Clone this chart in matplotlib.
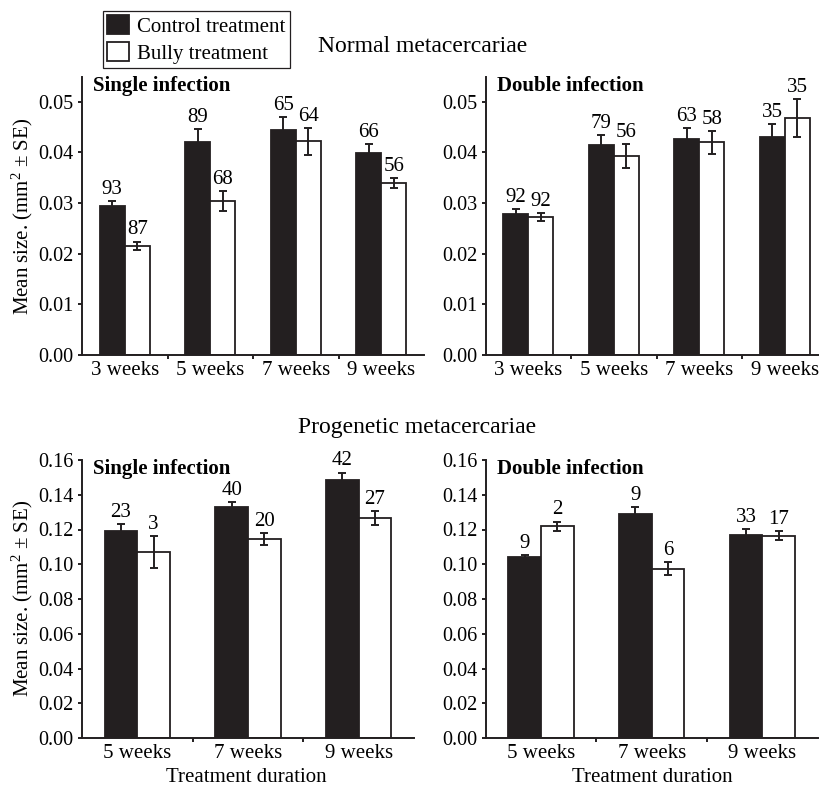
import matplotlib
matplotlib.use('Agg')
import matplotlib.pyplot as plt
import numpy as np
from matplotlib.patches import Patch
from matplotlib.ticker import FormatStrFormatter, FixedLocator

plt.rcParams['font.family'] = ['Liberation Serif', 'DejaVu Serif']
plt.rcParams['mathtext.fontset'] = 'custom'
plt.rcParams['mathtext.rm'] = 'Liberation Serif'
plt.rcParams['mathtext.it'] = 'Liberation Serif:italic'
plt.rcParams['mathtext.bf'] = 'Liberation Serif:bold'

# ---------------- data ----------------
weeks_normal = ['3 weeks', '5 weeks', '7 weeks', '9 weeks']
weeks_prog = ['5 weeks', '7 weeks', '9 weeks']

normal_single_control = [0.0294, 0.0420, 0.0444, 0.0399]
normal_single_control_se = [0.0010, 0.0027, 0.0026, 0.0017]
normal_single_bully = [0.0216, 0.0304, 0.0422, 0.0339]
normal_single_bully_se = [0.0008, 0.0020, 0.0027, 0.0010]
normal_single_control_n = [93, 89, 65, 66]
normal_single_bully_n = [87, 68, 64, 56]

normal_double_control = [0.0278, 0.0415, 0.0426, 0.0431]
normal_double_control_se = [0.0010, 0.0020, 0.0023, 0.0025]
normal_double_bully = [0.0273, 0.0393, 0.0420, 0.0468]
normal_double_bully_se = [0.0008, 0.0024, 0.0023, 0.0037]
normal_double_control_n = [92, 79, 63, 35]
normal_double_bully_n = [92, 56, 58, 35]

prog_single_control = [0.1194, 0.1329, 0.1486]
prog_single_control_se = [0.0037, 0.0027, 0.0042]
prog_single_bully = [0.1069, 0.1144, 0.1265]
prog_single_bully_se = [0.0092, 0.0033, 0.0040]
prog_single_control_n = [23, 40, 42]
prog_single_bully_n = [3, 20, 27]

prog_double_control = [0.1039, 0.1290, 0.1171]
prog_double_control_se = [0.0013, 0.0037, 0.0030]
prog_double_bully = [0.1219, 0.0975, 0.1165]
prog_double_bully_se = [0.0027, 0.0037, 0.0027]
prog_double_control_n = [9, 9, 33]
prog_double_bully_n = [2, 6, 17]

DARK = '#231f20'
W, H = 819, 788

fig = plt.figure(figsize=(W / 100, H / 100), dpi=100)


def px_axes(x0, y_top, x1, y_bot):
    return fig.add_axes([x0 / W, 1 - y_bot / H, (x1 - x0) / W, (y_bot - y_top) / H])


def panel(ax, cats, c, cse, b, bse, cn, bn, ymax, ystep, ytop, title):
    n = len(cats)
    x = np.arange(n)
    w = 0.295
    ax.bar(x - w / 2, c, w, color=DARK, edgecolor=DARK, linewidth=1.3, zorder=2)
    ax.bar(x + w / 2, b, w, color='white', edgecolor=DARK, linewidth=1.3, zorder=2)
    ax.errorbar(x - w / 2, c, yerr=cse, fmt='none', ecolor=DARK, elinewidth=1.4,
                capsize=2.8, capthick=1.4, zorder=3)
    ax.errorbar(x + w / 2, b, yerr=bse, fmt='none', ecolor=DARK, elinewidth=1.4,
                capsize=2.8, capthick=1.4, zorder=3)
    for xi, v, s, nn in zip(x - w / 2, c, cse, cn):
        ax.annotate(str(nn), (xi, v + s), xytext=(0, 1.5), textcoords='offset points',
                    ha='center', va='bottom', fontsize=15)
    for xi, v, s, nn in zip(x + w / 2, b, bse, bn):
        ax.annotate(str(nn), (xi, v + s), xytext=(0, 1.5), textcoords='offset points',
                    ha='center', va='bottom', fontsize=15)
    ax.set_xlim(-0.5, n - 0.5)
    ax.set_ylim(0, ytop)
    ax.set_yticks(np.arange(0, ymax + ystep / 2, ystep))
    ax.yaxis.set_major_formatter(FormatStrFormatter('%.2f'))
    ax.set_xticks(x)
    ax.set_xticklabels(cats, fontsize=15)
    ax.xaxis.set_minor_locator(FixedLocator(np.arange(0.5, n - 0.5, 1.0)))
    ax.tick_params(axis='x', which='major', length=0, pad=4)
    ax.tick_params(axis='x', which='minor', length=3, width=1.4, direction='out', color=DARK)
    ax.tick_params(axis='y', which='major', length=3, width=1.4, direction='out',
                   labelsize=14.5, pad=3, color=DARK)
    for sp in ['top', 'right']:
        ax.spines[sp].set_visible(False)
    for sp in ['left', 'bottom']:
        ax.spines[sp].set_linewidth(1.4)
        ax.spines[sp].set_color(DARK)
    ax.text(0.033, 1.005, title, transform=ax.transAxes, ha='left', va='top',
            fontsize=15, fontweight='bold')


ax1 = px_axes(82, 77, 424, 355)
panel(ax1, weeks_normal, normal_single_control, normal_single_control_se,
      normal_single_bully, normal_single_bully_se,
      normal_single_control_n, normal_single_bully_n, 0.05, 0.01, 0.0549, 'Single infection')

ax2 = px_axes(485.5, 77, 827.5, 355)
panel(ax2, weeks_normal, normal_double_control, normal_double_control_se,
      normal_double_bully, normal_double_bully_se,
      normal_double_control_n, normal_double_bully_n, 0.05, 0.01, 0.0549, 'Double infection')

ax3 = px_axes(82, 460, 414, 738)
panel(ax3, weeks_prog, prog_single_control, prog_single_control_se,
      prog_single_bully, prog_single_bully_se,
      prog_single_control_n, prog_single_bully_n, 0.16, 0.02, 0.16, 'Single infection')

ax4 = px_axes(485.7, 460, 817.7, 738)
panel(ax4, weeks_prog, prog_double_control, prog_double_control_se,
      prog_double_bully, prog_double_bully_se,
      prog_double_control_n, prog_double_bully_n, 0.16, 0.02, 0.16, 'Double infection')

ylab = 'Mean size. (mm$^{2}$ ± SE)'
fig.text(22 / W, 1 - 216 / H, ylab, rotation=90, ha='center', va='center', fontsize=15)
fig.text(22 / W, 1 - 598 / H, ylab, rotation=90, ha='center', va='center', fontsize=15)

fig.text(246.5 / W, 1 - 777 / H, 'Treatment duration', ha='center', va='center', fontsize=15)
fig.text(652 / W, 1 - 777 / H, 'Treatment duration', ha='center', va='center', fontsize=15)

fig.text(423 / W, 1 - 46 / H, 'Normal metacercariae', ha='center', va='center', fontsize=17)
fig.text(417.5 / W, 1 - 428 / H, 'Progenetic metacercariae', ha='center', va='center', fontsize=17)

handles = [Patch(facecolor=DARK, edgecolor=DARK, linewidth=1.3, label='Control treatment'),
           Patch(facecolor='white', edgecolor=DARK, linewidth=1.3, label='Bully treatment')]
leg = fig.legend(handles=handles, loc='upper left', bbox_to_anchor=(103 / W, 1 - 11 / H),
                 fontsize=15, frameon=True, fancybox=False, framealpha=1,
                 edgecolor=DARK, handlelength=1.05, handleheight=1.05,
                 handletextpad=0.4, labelspacing=0.25, borderpad=0.2, borderaxespad=0)
leg.get_frame().set_linewidth(0.9)

fig.savefig('out.png', dpi=100)
